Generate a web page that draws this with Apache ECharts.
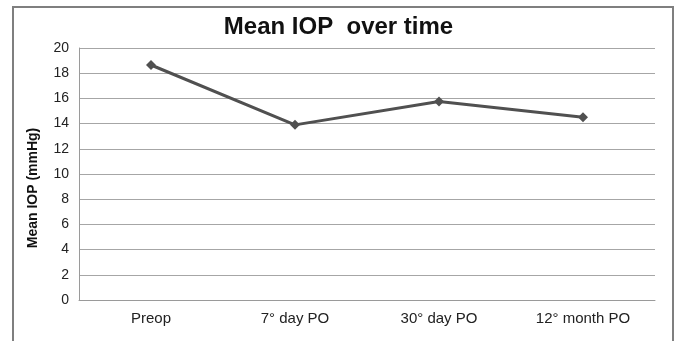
<!DOCTYPE html>
<html><head><meta charset="utf-8">
<script src="https://cdn.jsdelivr.net/npm/echarts@6/dist/echarts.min.js"></script>
<style>html,body{margin:0;padding:0;background:#fff}#c{width:677px;height:341px}</style>
</head><body><div id="c"></div>
<script>
const categories = ["Preop", "7\u00b0 day PO", "30\u00b0 day PO", "12\u00b0 month PO"];
const meanIOP = [18.65, 13.9, 15.75, 14.5];
const yTicks = [0, 2, 4, 6, 8, 10, 12, 14, 16, 18, 20];
const yTitle = 'Mean IOP (mmHg)';

const chart = echarts.init(document.getElementById('c'), null, {renderer: 'canvas'});
chart.setOption({
  animation: false,
  backgroundColor: '#fff',
  graphic: [{
    type: 'rect', shape: {x: 13, y: 7, width: 660, height: 345},
    style: {fill: 'none', stroke: '#7f7f7f', lineWidth: 2}, silent: true
  }, {
    type: 'text', x: 33, y: 188, rotation: Math.PI / 2,
    style: {text: yTitle, fill: '#111', font: 'bold 14px "Liberation Sans", Arial', textAlign: 'center', textVerticalAlign: 'middle'},
    silent: true
  }],
  title: {
    text: 'Mean IOP  over time', left: 'center', top: 10,
    textStyle: {fontFamily: 'Liberation Sans, Arial', fontWeight: 'bold', fontSize: 24, color: '#111'}
  },
  grid: {left: 79, right: 22, top: 48, bottom: 41},
  xAxis: {
    type: 'category', data: categories, boundaryGap: true,
    axisLine: {show: true, lineStyle: {color: '#9a9a9a', width: 1}},
    axisTick: {show: false},
    axisLabel: {margin: 11, fontFamily: 'Liberation Sans, Arial', fontSize: 15, color: '#222'}
  },
  yAxis: {
    type: 'value', min: yTicks[0], max: yTicks[yTicks.length - 1], interval: 2,
    axisLine: {show: true, lineStyle: {color: '#9a9a9a', width: 1}},
    axisTick: {show: false},
    axisLabel: {margin: 10, fontFamily: 'Liberation Sans, Arial', fontSize: 14, color: '#222'},
    splitLine: {show: true, lineStyle: {color: '#a6a6a6', width: 1}}
  },
  series: [{
    type: 'line', data: meanIOP,
    symbol: 'diamond', symbolSize: 10,
    lineStyle: {color: '#505050', width: 3},
    itemStyle: {color: '#505050'}
  }]
});
</script></body></html>
